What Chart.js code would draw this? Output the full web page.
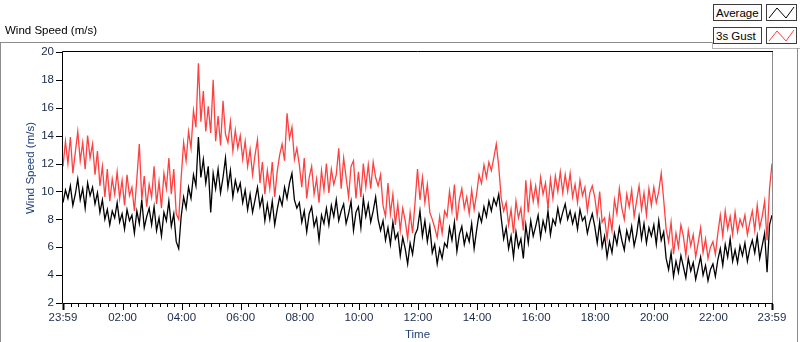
<!DOCTYPE html>
<html>
<head>
<meta charset="utf-8">
<script src="https://cdn.jsdelivr.net/npm/chart.js@4"></script>
<style>
  body { margin:0; width:800px; height:342px; background:#fff; overflow:hidden; font-family:"Liberation Sans", Arial, sans-serif; }
  #wrap { position:absolute; left:0; top:0; width:800px; height:342px; }
  .abs { position:absolute; }
  #top-label { left:5px; top:24px; font-size:11.5px; color:#000; }
  .hline { height:1px; }
  .vline { width:1px; }
  .lg-text { border:1px solid #3c3c3c; background:#fcfcfc; font-size:11.5px; line-height:16px; padding-left:2px; box-sizing:border-box; color:#000; }
  .lg-icon { border:1px solid #3c3c3c; background:#fff; box-sizing:border-box; }
</style>
</head>
<body>
<div id="wrap">
  <canvas id="chart" width="800" height="342"></canvas>

  <!-- panel frame -->
  <div class="abs" id="top-label">Wind Speed (m/s)</div>
  <div class="abs hline" style="left:0;top:42px;width:712px;background:#8c8c8c"></div>
  <div class="abs vline" style="left:0;top:42px;height:300px;background:#8c8c8c"></div>
  <div class="abs vline" style="left:712px;top:42px;height:7px;background:#b4b4b4"></div>
  <div class="abs hline" style="left:712px;top:48px;width:88px;background:#b4b4b4"></div>
  <div class="abs vline" style="left:797px;top:48px;height:294px;background:#8c8c8c"></div>

  <!-- legend -->
  <div class="abs lg-text" style="left:713px;top:4px;width:49px;height:17px">Average</div>
  <div class="abs lg-icon" style="left:766px;top:4px;width:31px;height:17px">
    <svg width="29" height="15"><polyline points="2,13 10,3 19,13 27,2" fill="none" stroke="#000" stroke-width="1"/></svg>
  </div>
  <div class="abs lg-text" style="left:713px;top:27px;width:49px;height:17px">3s Gust</div>
  <div class="abs lg-icon" style="left:766px;top:27px;width:31px;height:17px">
    <svg width="29" height="15"><polyline points="2,13 10,3 19,13 27,2" fill="none" stroke="#ff4040" stroke-width="1"/></svg>
  </div>
</div>

<script>
/* ── Data (5 min samples, starting 23:59) ── */
const STEP_MIN = 5;

const average = [
  9.2,10.1,9.5,10.4,9.0,9.8,10.9,9.4,10.2,8.8,10.6,9.7,
  10.3,9.1,9.9,8.5,9.4,8.0,8.7,7.6,8.6,8.1,9.2,7.8,
  8.4,7.3,8.7,7.9,8.3,7.0,8.6,7.7,9.4,7.4,8.2,8.8,
  7.6,8.9,7.2,8.1,6.8,8.5,7.9,9.3,7.5,8.4,6.4,5.9,
  8.2,9.6,8.8,10.3,9.5,11.2,10.4,13.9,11.0,12.3,10.6,11.8,
  8.5,11.3,10.2,11.6,9.9,11.0,12.4,10.3,11.5,9.6,10.8,10.0,
  10.6,9.2,10.1,8.7,9.8,8.5,9.4,10.3,8.9,9.6,7.9,9.1,
  8.0,9.3,7.6,8.7,9.6,9.0,10.3,9.5,10.6,11.3,9.4,8.8,
  9.2,7.8,8.6,7.1,8.4,8.9,7.5,8.1,6.5,8.3,7.7,8.8,
  7.6,9.0,8.2,9.4,7.9,8.6,9.1,7.7,8.4,9.3,7.2,8.5,
  8.9,7.4,9.5,8.2,9.1,7.8,8.6,9.6,8.0,7.2,7.9,6.5,
  7.4,6.2,7.8,6.6,7.0,5.4,6.7,5.9,4.8,6.3,5.5,6.9,
  7.3,8.6,6.8,7.9,6.4,7.5,5.6,6.2,4.8,5.9,5.2,6.3,
  6.0,7.4,6.5,7.8,5.7,6.9,7.5,6.2,7.0,6.4,7.7,5.9,
  7.2,8.4,7.8,8.9,8.2,9.3,8.6,9.5,9.0,9.8,8.1,6.6,
  7.4,5.9,6.8,5.3,7.1,6.0,6.6,5.2,7.6,6.3,7.9,6.8,
  7.5,8.3,6.7,7.9,7.2,8.6,6.9,8.0,7.6,8.8,7.8,8.5,
  9.1,8.0,8.6,7.7,8.4,7.3,8.7,7.9,8.2,7.0,7.8,8.4,
  7.5,6.3,7.8,6.0,6.8,5.3,6.4,5.6,7.0,6.2,7.4,6.5,
  5.8,7.2,6.5,7.5,6.1,6.9,8.2,6.6,7.7,6.3,7.4,6.8,
  7.6,6.2,7.9,6.5,7.1,5.2,4.4,5.6,3.9,5.0,4.2,5.4,
  4.6,3.8,5.2,4.3,4.9,3.7,4.5,5.3,4.0,4.7,3.6,4.4,
  4.8,3.9,5.1,5.9,4.7,6.2,5.3,6.6,5.0,5.8,4.9,6.1,
  5.4,6.3,5.0,5.9,6.5,5.6,6.8,5.2,6.1,7.0,4.2,7.6,
  8.3
];

const gust = [
  11.8,13.6,12.0,13.9,11.3,12.8,14.3,12.2,13.5,11.6,14.0,12.4,
  13.4,11.2,12.9,10.4,11.8,9.6,11.6,9.3,10.9,9.8,11.4,9.5,
  10.8,9.0,11.2,9.7,10.3,8.6,10.9,13.4,9.4,11.1,8.9,10.5,
  9.6,11.8,9.1,10.7,8.8,11.3,10.2,12.4,9.8,11.6,8.4,8.0,
  11.0,13.5,12.2,14.3,13.1,15.8,14.6,19.2,15.0,17.2,14.3,16.1,
  14.2,18.0,13.6,15.4,13.3,16.5,14.1,13.5,15.0,12.9,14.4,13.1,
  14.0,12.3,13.6,11.8,13.0,11.2,12.6,13.7,10.6,12.1,9.8,11.5,
  10.2,12.1,9.6,11.4,12.6,13.4,12.2,15.6,13.8,14.6,12.3,13.1,
  11.9,10.3,12.4,9.5,11.0,11.8,9.8,10.9,9.2,11.5,10.1,12.0,
  9.9,11.6,10.5,11.2,13.1,10.2,12.4,11.0,9.6,11.8,12.2,9.5,
  11.4,9.6,12.0,10.3,11.9,10.2,12.1,11.0,10.4,11.2,9.0,8.2,
  10.6,8.4,9.8,7.6,9.1,7.2,8.8,7.9,6.6,8.5,7.0,9.2,
  11.6,9.4,11.0,9.2,10.5,8.5,8.0,7.4,6.7,8.2,7.0,8.6,
  8.2,10.0,8.6,10.5,7.9,9.4,10.2,8.8,9.6,8.4,10.1,8.7,
  9.8,11.2,10.6,11.9,11.0,12.1,11.5,12.4,13.4,11.8,9.5,8.6,
  9.2,7.6,8.7,7.0,9.3,8.1,8.8,7.2,10.8,8.5,10.6,9.3,
  10.4,9.1,11.0,9.8,10.6,8.8,10.9,9.5,11.1,10.0,11.4,9.9,
  11.2,10.0,11.3,9.6,10.5,9.2,10.8,9.7,10.3,8.6,9.9,10.4,
  9.6,8.2,10.0,7.8,8.1,6.6,8.3,7.2,9.4,8.4,10.2,8.8,
  8.0,9.8,8.9,10.1,8.2,9.3,10.4,8.7,9.9,8.3,10.2,9.0,
  10.3,9.2,10.0,11.3,9.4,7.3,6.4,7.8,5.5,7.0,6.0,7.6,
  6.8,5.4,7.2,6.1,6.9,5.3,6.3,7.4,5.6,6.6,5.2,6.0,
  6.4,5.5,7.0,8.3,6.8,8.6,7.3,8.2,6.9,8.5,7.1,8.0,
  7.5,8.3,6.9,7.8,8.6,7.2,9.0,7.4,8.2,9.3,6.5,10.2,
  12.0
];

const yTicks = [2, 4, 6, 8, 10, 12, 14, 16, 18, 20];
const xMajorLabels = ['23:59','02:00','04:00','06:00','08:00','10:00','12:00','14:00','16:00','18:00','20:00','22:00','23:59'];

/* ── Helpers ───────────────────────────── */
const TICK_COLOR  = '#1b2a4a';
const TITLE_COLOR = '#22427a';
const FONT = '"Liberation Sans", Arial, sans-serif';

// x values are minutes after 23:59; minor ticks every 15 min from 00:00, major every 2 h
const xTickValues = [0];
for (let k = 1; k <= 95; k++) xTickValues.push(1 + k * 15);
xTickValues.push(1440);

function isMajor(v) {
  return v === 0 || v === 1440 || ((v - 1) % 120 === 0 && v > 1);
}
function labelFor(v) {
  if (v === 0) return xMajorLabels[0];
  if (v === 1440) return xMajorLabels[12];
  if (v > 1 && (v - 1) % 120 === 0) return xMajorLabels[(v - 1) / 120];
  return '';
}

const toPoints = arr => arr.map((v, i) => ({ x: i * STEP_MIN, y: v }));

/* ── Frame / tick plugin ───────────────── */
const framePlugin = {
  id: 'frame',
  afterDraw(chart) {
    const { ctx, chartArea: a, scales: { x, y } } = chart;
    ctx.save();
    ctx.lineWidth = 1;

    // right edge (grey)
    ctx.strokeStyle = '#8c8c8c';
    ctx.beginPath();
    ctx.moveTo(a.right + 0.5, a.top);
    ctx.lineTo(a.right + 0.5, a.bottom);
    ctx.stroke();

    // left, top, bottom (black)
    ctx.strokeStyle = '#000';
    ctx.beginPath();
    ctx.moveTo(a.right + 1, a.top - 0.5);
    ctx.lineTo(a.left - 0.5, a.top - 0.5);
    ctx.lineTo(a.left - 0.5, a.bottom + 0.5);
    ctx.lineTo(a.right + 1, a.bottom + 0.5);
    ctx.stroke();

    // y tick dashes
    yTicks.forEach(v => {
      const py = Math.round(y.getPixelForValue(v)) + 0.5;
      ctx.beginPath();
      ctx.moveTo(a.left - 7, py);
      ctx.lineTo(a.left - 1, py);
      ctx.stroke();
    });

    // x ticks
    xTickValues.forEach(v => {
      const px = Math.round(x.getPixelForValue(v)) + 0.5;
      const len = isMajor(v) ? 6 : 3;
      ctx.lineWidth = (v === 0 || v === 1440) ? 2 : 1;
      ctx.beginPath();
      ctx.moveTo(px, a.bottom + 1);
      ctx.lineTo(px, a.bottom + 1 + len);
      ctx.stroke();
    });

    // y axis title
    ctx.fillStyle = TITLE_COLOR;
    ctx.font = '11.5px ' + FONT;
    ctx.textAlign = 'center';
    ctx.textBaseline = 'middle';
    ctx.translate(31, 168);
    ctx.rotate(-Math.PI / 2);
    ctx.fillText('Wind Speed (m/s)', 0, 0);
    ctx.restore();
  }
};

/* ── Chart ─────────────────────────────── */
new Chart(document.getElementById('chart'), {
  type: 'line',
  data: {
    datasets: [
      {
        label: 'Average',
        data: toPoints(average),
        borderColor: '#000',
        borderWidth: 1.3,
        pointRadius: 0,
        tension: 0,
      },
      {
        label: '3s Gust',
        data: toPoints(gust),
        borderColor: '#ff4040',
        borderWidth: 1.3,
        pointRadius: 0,
        tension: 0,
      },
    ],
  },
  options: {
    responsive: false,
    animation: false,
    layout: { padding: { top: 52, right: 28, left: 0, bottom: 0 } },
    plugins: { legend: { display: false }, tooltip: { enabled: false } },
    scales: {
      x: {
        type: 'linear',
        min: 0,
        max: 1440,
        afterBuildTicks: s => { s.ticks = xTickValues.map(v => ({ value: v })); },
        afterFit: s => { s.height = 39; },
        grid: { display: false, drawTicks: false },
        border: { display: false },
        ticks: {
          autoSkip: false,
          maxRotation: 0,
          padding: 8,
          color: TICK_COLOR,
          font: { family: FONT, size: 11.5 },
          callback: v => labelFor(v),
        },
        title: {
          display: true,
          text: 'Time',
          color: TITLE_COLOR,
          font: { family: FONT, size: 11.5 },
          padding: { top: 0, bottom: 0 },
        },
      },
      y: {
        min: 2,
        max: 20,
        afterBuildTicks: s => { s.ticks = yTicks.map(v => ({ value: v })); },
        afterFit: s => { s.width = 63; },
        grid: { display: false, drawTicks: false },
        border: { display: false },
        ticks: {
          padding: 9,
          color: TICK_COLOR,
          font: { family: FONT, size: 11.5 },
        },
      },
    },
  },
  plugins: [framePlugin],
});
</script>
</body>
</html>
